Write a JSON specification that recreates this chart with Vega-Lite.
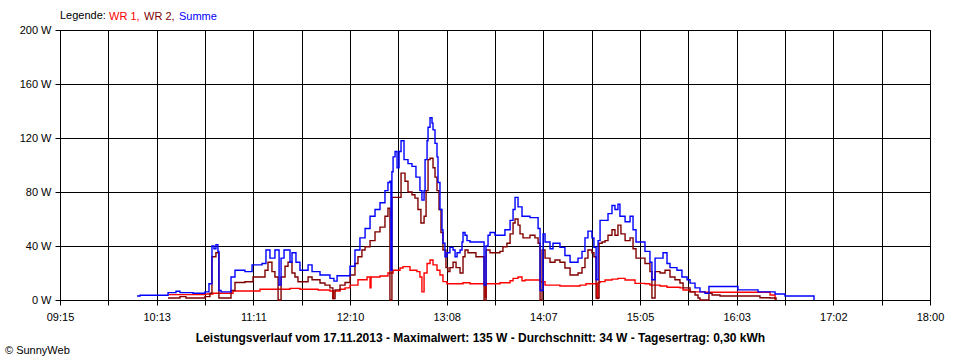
{
  "$schema": "https://vega.github.io/schema/vega-lite/v6.json",
  "width": 870,
  "height": 270,
  "autosize": "none",
  "padding": {"left": 60, "top": 30, "right": 30, "bottom": 60},
  "background": "white",
  "config": {"view": {"stroke": "black", "strokeWidth": 1}, "font": "Liberation Sans"},
  "title": {"text": "© SunnyWeb", "orient": "bottom", "anchor": "start", "frame": "group", "dx": -55, "offset": 2, "fontSize": 11, "fontWeight": "normal", "color": "black"},
  "layer": [
    {
      "mark": {"type": "rule", "color": "#808080", "strokeWidth": 1},
      "encoding": {"y": {"datum": 34, "type": "quantitative"}}
    },
    {
      "data": {"values": [
        {"s":"WR 1","t":620.2,"w":4},{"s":"WR 1","t":642.5,"w":4.5},{"s":"WR 1","t":647.3,"w":5},{"s":"WR 1","t":659.4,"w":6.7},{"s":"WR 1","t":675.7,"w":8},{"s":"WR 1","t":693.8,"w":8.6},{"s":"WR 1","t":699.8,"w":8},{"s":"WR 1","t":710.7,"w":7.4},{"s":"WR 1","t":717.9,"w":6.7},{"s":"WR 1","t":719.7,"w":1},{"s":"WR 1","t":720.3,"w":6.7},{"s":"WR 1","t":724.0,"w":8},{"s":"WR 1","t":727.0,"w":9},{"s":"WR 1","t":730.0,"w":11},{"s":"WR 1","t":734.8,"w":15},{"s":"WR 1","t":740.3,"w":17},{"s":"WR 1","t":742.1,"w":9},{"s":"WR 1","t":742.7,"w":17},{"s":"WR 1","t":748.1,"w":17.8},{"s":"WR 1","t":752.9,"w":20},{"s":"WR 1","t":756.0,"w":22},{"s":"WR 1","t":760.2,"w":23.7},{"s":"WR 1","t":762.0,"w":24.7},{"s":"WR 1","t":766.2,"w":22},{"s":"WR 1","t":770.4,"w":21},{"s":"WR 1","t":772.2,"w":17},{"s":"WR 1","t":773.4,"w":6},{"s":"WR 1","t":774.7,"w":20},{"s":"WR 1","t":776.5,"w":27},{"s":"WR 1","t":778.3,"w":29.6},{"s":"WR 1","t":780.1,"w":26},{"s":"WR 1","t":782.5,"w":22},{"s":"WR 1","t":784.3,"w":18.5},{"s":"WR 1","t":786.1,"w":13.6},{"s":"WR 1","t":788.5,"w":12},{"s":"WR 1","t":798.2,"w":12.8},{"s":"WR 1","t":802.4,"w":12},{"s":"WR 1","t":811.5,"w":2},{"s":"WR 1","t":812.1,"w":12},{"s":"WR 1","t":820.5,"w":12.8},{"s":"WR 1","t":826.6,"w":14.3},{"s":"WR 1","t":828.4,"w":16},{"s":"WR 1","t":831.4,"w":17},{"s":"WR 1","t":833.8,"w":14.3},{"s":"WR 1","t":835.6,"w":14.8},{"s":"WR 1","t":844.7,"w":13.6},{"s":"WR 1","t":847.7,"w":11},{"s":"WR 1","t":856.7,"w":10.4},{"s":"WR 1","t":868.8,"w":11},{"s":"WR 1","t":872.4,"w":12},{"s":"WR 1","t":879.1,"w":1},{"s":"WR 1","t":879.7,"w":13},{"s":"WR 1","t":880.9,"w":13.6},{"s":"WR 1","t":883.9,"w":14.8},{"s":"WR 1","t":888.1,"w":15.5},{"s":"WR 1","t":891.7,"w":16},{"s":"WR 1","t":896.0,"w":14.8},{"s":"WR 1","t":902.0,"w":12.3},{"s":"WR 1","t":908.0,"w":12},{"s":"WR 1","t":911.0,"w":11},{"s":"WR 1","t":917.1,"w":10.4},{"s":"WR 1","t":921.3,"w":9.4},{"s":"WR 1","t":929.1,"w":9},{"s":"WR 1","t":931.0,"w":7.4},{"s":"WR 1","t":935.2,"w":6},{"s":"WR 1","t":944.2,"w":5.7},{"s":"WR 1","t":983.5,"w":3.7},{"s":"WR 1","t":986.5,"w":0},

        {"s":"WR 2","t":620.2,"w":1.5},{"s":"WR 2","t":627.4,"w":2.5},{"s":"WR 2","t":631.0,"w":1.5},{"s":"WR 2","t":642.5,"w":2.5},{"s":"WR 2","t":645.5,"w":5},{"s":"WR 2","t":646.7,"w":32},{"s":"WR 2","t":649.1,"w":35},{"s":"WR 2","t":650.9,"w":1.5},{"s":"WR 2","t":658.2,"w":7},{"s":"WR 2","t":660.6,"w":13},{"s":"WR 2","t":666.6,"w":13.5},{"s":"WR 2","t":671.5,"w":17},{"s":"WR 2","t":678.7,"w":22},{"s":"WR 2","t":680.5,"w":28},{"s":"WR 2","t":682.9,"w":21},{"s":"WR 2","t":684.7,"w":17},{"s":"WR 2","t":686.6,"w":0},{"s":"WR 2","t":688.4,"w":17},{"s":"WR 2","t":690.8,"w":25},{"s":"WR 2","t":692.6,"w":28},{"s":"WR 2","t":695.0,"w":20},{"s":"WR 2","t":696.8,"w":17},{"s":"WR 2","t":698.6,"w":13.5},{"s":"WR 2","t":704.7,"w":17},{"s":"WR 2","t":707.1,"w":15},{"s":"WR 2","t":711.9,"w":12.6},{"s":"WR 2","t":714.9,"w":11},{"s":"WR 2","t":717.9,"w":9},{"s":"WR 2","t":719.7,"w":1},{"s":"WR 2","t":721.0,"w":7.5},{"s":"WR 2","t":724.0,"w":11},{"s":"WR 2","t":727.0,"w":13},{"s":"WR 2","t":730.0,"w":18.5},{"s":"WR 2","t":733.0,"w":27},{"s":"WR 2","t":734.8,"w":32},{"s":"WR 2","t":737.2,"w":37},{"s":"WR 2","t":739.1,"w":39.5},{"s":"WR 2","t":742.1,"w":44},{"s":"WR 2","t":745.1,"w":50.5},{"s":"WR 2","t":748.1,"w":54},{"s":"WR 2","t":751.1,"w":62},{"s":"WR 2","t":752.9,"w":68},{"s":"WR 2","t":754.1,"w":0},{"s":"WR 2","t":755.3,"w":76},{"s":"WR 2","t":760.8,"w":94},{"s":"WR 2","t":763.2,"w":88},{"s":"WR 2","t":765.0,"w":80},{"s":"WR 2","t":767.4,"w":78},{"s":"WR 2","t":769.2,"w":75.5},{"s":"WR 2","t":771.0,"w":67},{"s":"WR 2","t":772.8,"w":57},{"s":"WR 2","t":774.7,"w":62},{"s":"WR 2","t":775.9,"w":81},{"s":"WR 2","t":777.1,"w":104},{"s":"WR 2","t":778.3,"w":105},{"s":"WR 2","t":780.1,"w":98},{"s":"WR 2","t":781.3,"w":91},{"s":"WR 2","t":782.5,"w":81},{"s":"WR 2","t":783.7,"w":67},{"s":"WR 2","t":784.9,"w":50},{"s":"WR 2","t":786.1,"w":37},{"s":"WR 2","t":787.9,"w":24},{"s":"WR 2","t":789.1,"w":21},{"s":"WR 2","t":790.3,"w":24},{"s":"WR 2","t":792.2,"w":28},{"s":"WR 2","t":794.0,"w":24},{"s":"WR 2","t":796.4,"w":20},{"s":"WR 2","t":798.2,"w":32},{"s":"WR 2","t":799.4,"w":37},{"s":"WR 2","t":801.2,"w":35},{"s":"WR 2","t":806.0,"w":32},{"s":"WR 2","t":810.9,"w":0},{"s":"WR 2","t":812.1,"w":37},{"s":"WR 2","t":814.5,"w":35},{"s":"WR 2","t":820.5,"w":36},{"s":"WR 2","t":822.3,"w":39.5},{"s":"WR 2","t":824.7,"w":42},{"s":"WR 2","t":826.6,"w":49},{"s":"WR 2","t":828.4,"w":57},{"s":"WR 2","t":829.6,"w":60},{"s":"WR 2","t":831.4,"w":55.5},{"s":"WR 2","t":832.6,"w":49},{"s":"WR 2","t":834.4,"w":46},{"s":"WR 2","t":838.6,"w":48},{"s":"WR 2","t":841.6,"w":46},{"s":"WR 2","t":843.5,"w":42},{"s":"WR 2","t":844.7,"w":0},{"s":"WR 2","t":845.9,"w":37},{"s":"WR 2","t":847.7,"w":31},{"s":"WR 2","t":850.7,"w":28},{"s":"WR 2","t":853.7,"w":29.6},{"s":"WR 2","t":856.7,"w":28},{"s":"WR 2","t":859.7,"w":23.7},{"s":"WR 2","t":862.8,"w":18.5},{"s":"WR 2","t":867.6,"w":20},{"s":"WR 2","t":870.0,"w":24},{"s":"WR 2","t":871.8,"w":31},{"s":"WR 2","t":873.6,"w":37},{"s":"WR 2","t":876.0,"w":35},{"s":"WR 2","t":877.2,"w":32},{"s":"WR 2","t":878.5,"w":1.5},{"s":"WR 2","t":880.3,"w":42},{"s":"WR 2","t":882.1,"w":43},{"s":"WR 2","t":883.9,"w":44},{"s":"WR 2","t":885.7,"w":48},{"s":"WR 2","t":888.1,"w":52},{"s":"WR 2","t":889.9,"w":48},{"s":"WR 2","t":891.7,"w":55.5},{"s":"WR 2","t":893.5,"w":49},{"s":"WR 2","t":896.0,"w":44},{"s":"WR 2","t":899.0,"w":46},{"s":"WR 2","t":900.8,"w":38},{"s":"WR 2","t":902.6,"w":31},{"s":"WR 2","t":908.0,"w":27},{"s":"WR 2","t":911.0,"w":21},{"s":"WR 2","t":912.2,"w":1.5},{"s":"WR 2","t":914.1,"w":21},{"s":"WR 2","t":917.1,"w":20},{"s":"WR 2","t":920.1,"w":22},{"s":"WR 2","t":923.1,"w":17},{"s":"WR 2","t":926.1,"w":15},{"s":"WR 2","t":929.1,"w":12.6},{"s":"WR 2","t":931.0,"w":9},{"s":"WR 2","t":935.2,"w":6},{"s":"WR 2","t":938.2,"w":3.7},{"s":"WR 2","t":940.0,"w":1.5},{"s":"WR 2","t":941.2,"w":0},{"s":"WR 2","t":946.6,"w":5},{"s":"WR 2","t":948.5,"w":3.7},{"s":"WR 2","t":953.3,"w":3},{"s":"WR 2","t":977.4,"w":1.7},{"s":"WR 2","t":983.5,"w":1.5},{"s":"WR 2","t":987.1,"w":0},

        {"s":"Summe","t":601.5,"w":3},{"s":"Summe","t":603.3,"w":3.5},{"s":"Summe","t":620.2,"w":5.5},{"s":"Summe","t":625.0,"w":6.5},{"s":"Summe","t":627.4,"w":5.5},{"s":"Summe","t":635.3,"w":5},{"s":"Summe","t":642.5,"w":6},{"s":"Summe","t":644.9,"w":12},{"s":"Summe","t":646.7,"w":40},{"s":"Summe","t":647.9,"w":38},{"s":"Summe","t":649.1,"w":41},{"s":"Summe","t":650.3,"w":36},{"s":"Summe","t":650.9,"w":7},{"s":"Summe","t":652.2,"w":6},{"s":"Summe","t":658.2,"w":17},{"s":"Summe","t":660.6,"w":22},{"s":"Summe","t":666.6,"w":21},{"s":"Summe","t":670.9,"w":26},{"s":"Summe","t":676.9,"w":27},{"s":"Summe","t":679.3,"w":37},{"s":"Summe","t":681.7,"w":31},{"s":"Summe","t":684.7,"w":37},{"s":"Summe","t":687.2,"w":11},{"s":"Summe","t":688.4,"w":31},{"s":"Summe","t":690.2,"w":37},{"s":"Summe","t":693.8,"w":28},{"s":"Summe","t":695.0,"w":35},{"s":"Summe","t":697.4,"w":28},{"s":"Summe","t":699.8,"w":22},{"s":"Summe","t":704.7,"w":26},{"s":"Summe","t":707.1,"w":21},{"s":"Summe","t":711.9,"w":18.5},{"s":"Summe","t":717.9,"w":16},{"s":"Summe","t":720.3,"w":14},{"s":"Summe","t":722.2,"w":18},{"s":"Summe","t":730.0,"w":25},{"s":"Summe","t":733.0,"w":37},{"s":"Summe","t":736.0,"w":46},{"s":"Summe","t":739.1,"w":53},{"s":"Summe","t":742.1,"w":62},{"s":"Summe","t":745.1,"w":67},{"s":"Summe","t":748.1,"w":72},{"s":"Summe","t":751.1,"w":81},{"s":"Summe","t":752.9,"w":87},{"s":"Summe","t":754.1,"w":88},{"s":"Summe","t":754.7,"w":22},{"s":"Summe","t":755.3,"w":95},{"s":"Summe","t":756.0,"w":106},{"s":"Summe","t":757.2,"w":110},{"s":"Summe","t":758.4,"w":98},{"s":"Summe","t":759.6,"w":110},{"s":"Summe","t":760.8,"w":118},{"s":"Summe","t":762.6,"w":104},{"s":"Summe","t":765.0,"w":101},{"s":"Summe","t":767.4,"w":99},{"s":"Summe","t":769.8,"w":91},{"s":"Summe","t":772.2,"w":81},{"s":"Summe","t":773.4,"w":74},{"s":"Summe","t":774.7,"w":81},{"s":"Summe","t":775.3,"w":104},{"s":"Summe","t":776.5,"w":118},{"s":"Summe","t":777.1,"w":128},{"s":"Summe","t":778.3,"w":135},{"s":"Summe","t":779.5,"w":131},{"s":"Summe","t":780.1,"w":126},{"s":"Summe","t":781.3,"w":116},{"s":"Summe","t":782.5,"w":106},{"s":"Summe","t":783.1,"w":87},{"s":"Summe","t":784.3,"w":67},{"s":"Summe","t":785.5,"w":52},{"s":"Summe","t":786.1,"w":42},{"s":"Summe","t":787.3,"w":32},{"s":"Summe","t":788.5,"w":35},{"s":"Summe","t":790.3,"w":39},{"s":"Summe","t":792.2,"w":37},{"s":"Summe","t":793.4,"w":32},{"s":"Summe","t":794.6,"w":35},{"s":"Summe","t":796.4,"w":37},{"s":"Summe","t":797.6,"w":43},{"s":"Summe","t":798.2,"w":50},{"s":"Summe","t":799.4,"w":48},{"s":"Summe","t":800.6,"w":44},{"s":"Summe","t":802.4,"w":43},{"s":"Summe","t":810.9,"w":11},{"s":"Summe","t":812.1,"w":40},{"s":"Summe","t":813.3,"w":48},{"s":"Summe","t":814.5,"w":50},{"s":"Summe","t":817.5,"w":48},{"s":"Summe","t":823.5,"w":52},{"s":"Summe","t":826.6,"w":59},{"s":"Summe","t":828.4,"w":67},{"s":"Summe","t":829.6,"w":76},{"s":"Summe","t":831.4,"w":69},{"s":"Summe","t":833.8,"w":62},{"s":"Summe","t":838.6,"w":61},{"s":"Summe","t":843.5,"w":53},{"s":"Summe","t":844.7,"w":7},{"s":"Summe","t":846.5,"w":49},{"s":"Summe","t":847.7,"w":43},{"s":"Summe","t":850.7,"w":38},{"s":"Summe","t":852.5,"w":42},{"s":"Summe","t":856.7,"w":39},{"s":"Summe","t":859.7,"w":33},{"s":"Summe","t":862.8,"w":28},{"s":"Summe","t":867.6,"w":31},{"s":"Summe","t":870.0,"w":36},{"s":"Summe","t":871.8,"w":46},{"s":"Summe","t":873.6,"w":51},{"s":"Summe","t":876.0,"w":46},{"s":"Summe","t":877.2,"w":39},{"s":"Summe","t":878.5,"w":15},{"s":"Summe","t":879.7,"w":44},{"s":"Summe","t":880.9,"w":59},{"s":"Summe","t":885.7,"w":64},{"s":"Summe","t":888.1,"w":70},{"s":"Summe","t":889.9,"w":67},{"s":"Summe","t":891.7,"w":71},{"s":"Summe","t":892.9,"w":62},{"s":"Summe","t":896.0,"w":58},{"s":"Summe","t":899.0,"w":62},{"s":"Summe","t":900.8,"w":52},{"s":"Summe","t":902.6,"w":43},{"s":"Summe","t":908.0,"w":36},{"s":"Summe","t":911.0,"w":28},{"s":"Summe","t":912.2,"w":15},{"s":"Summe","t":914.1,"w":31},{"s":"Summe","t":918.9,"w":35},{"s":"Summe","t":921.3,"w":27},{"s":"Summe","t":923.1,"w":24},{"s":"Summe","t":927.3,"w":22},{"s":"Summe","t":930.3,"w":17},{"s":"Summe","t":933.4,"w":15},{"s":"Summe","t":935.2,"w":12.5},{"s":"Summe","t":938.2,"w":9},{"s":"Summe","t":941.2,"w":6},{"s":"Summe","t":944.2,"w":5},{"s":"Summe","t":946.6,"w":10},{"s":"Summe","t":964.1,"w":7.5},{"s":"Summe","t":976.2,"w":6},{"s":"Summe","t":986.5,"w":4.5},{"s":"Summe","t":992.5,"w":3},{"s":"Summe","t":1010.0,"w":0}
      ]},
      "mark": {"type": "line", "interpolate": "step-after", "strokeWidth": 1.4},
      "encoding": {
        "x": {
          "field": "t", "type": "quantitative",
          "scale": {"domain": [555, 1080], "nice": false, "zero": false},
          "axis": {
            "values": [555, 584.1667, 613.3333, 642.5, 671.6667, 700.8333, 730, 759.1667, 788.3333, 817.5, 846.6667, 875.8333, 905, 934.1667, 963.3333, 992.5, 1021.6667, 1050.8333, 1080],
            "labelExpr": "['09:15','','10:13','','11:11','','12:10','','13:08','','14:07','','15:05','','16:03','','17:02','','18:00'][round(datum.index*18)]",
            "grid": true, "gridColor": "black", "gridOpacity": 1, "gridWidth": 1,
            "ticks": true, "tickColor": "black", "tickSize": 5, "tickWidth": 1,
            "domainColor": "black", "domainWidth": 1,
            "labelColor": "black", "labelFontSize": 11, "labelPadding": 6, "labelFlush": false, "labelOverlap": false,
            "title": "Leistungsverlauf vom 17.11.2013 - Maximalwert: 135 W - Durchschnitt: 34 W - Tagesertrag: 0,30 kWh",
            "titleFontSize": 12, "titleFontWeight": "bold", "titleColor": "black",
            "titleX": 420, "titleY": 37, "titleAlign": "center", "titleBaseline": "middle", "titleAnchor": null
          }
        },
        "y": {
          "field": "w", "type": "quantitative",
          "scale": {"domain": [0, 200], "nice": false},
          "axis": {
            "values": [0, 40, 80, 120, 160, 200],
            "labelExpr": "datum.value + ' W'",
            "grid": true, "gridColor": "black", "gridOpacity": 1, "gridWidth": 1,
            "ticks": true, "tickColor": "black", "tickSize": 5, "tickWidth": 1,
            "domainColor": "black",
            "labelColor": "black", "labelFontSize": 11, "labelPadding": 4, "labelFlush": false,
            "title": null
          }
        },
        "color": {
          "field": "s", "type": "nominal",
          "scale": {"domain": ["WR 1", "WR 2", "Summe"], "range": ["#ff0000", "#800000", "#0000ff"]},
          "legend": {
            "orient": "none", "legendX": 0, "legendY": -19, "direction": "horizontal",
            "title": "Legende:", "titleOrient": "left", "titleFontSize": 11, "titleFontWeight": "normal", "titleColor": "black", "titlePadding": 3,
            "labelFontSize": 11, "labelOffset": -11, "columnPadding": 4,
            "symbolSize": 0, "symbolStrokeWidth": 0, "symbolOpacity": 0,
            "labelExpr": "datum.label == 'Summe' ? datum.label : datum.label + ','",
            "encode": {"labels": {"update": {"fill": {"scale": "color", "field": "value"}}}}
          }
        }
      }
    }
  ]
}
